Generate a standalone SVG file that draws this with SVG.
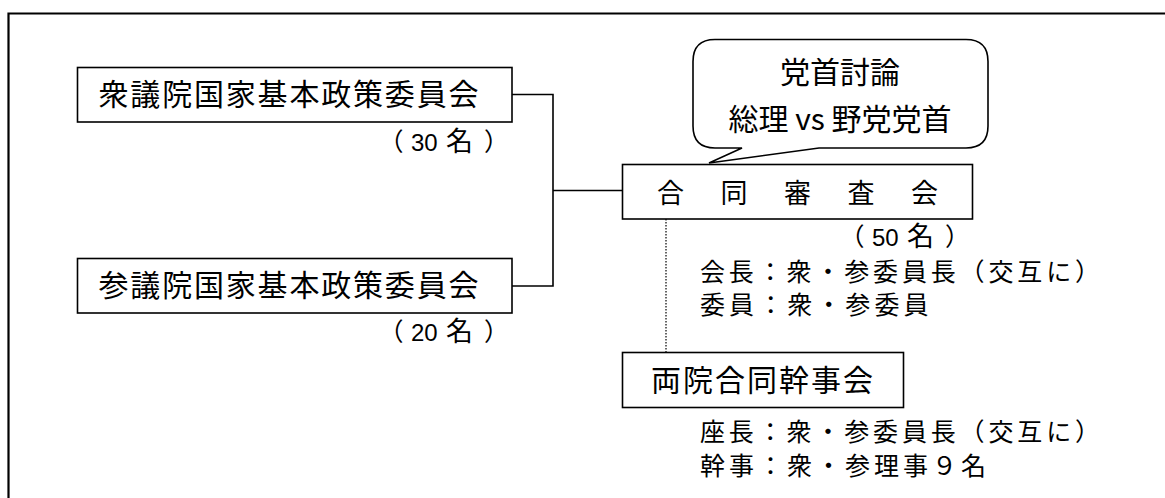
<svg xmlns="http://www.w3.org/2000/svg" width="1165" height="498" viewBox="0 0 1165 498">
<style>
.box{fill:#fff;stroke:#000;stroke-width:1.6}
.frame{fill:none;stroke:#000;stroke-width:2.2}
.con{fill:none;stroke:#000;stroke-width:1.6}
.dot{fill:none;stroke:#000;stroke-width:1.2;stroke-dasharray:1.5 1.5}
text{font-family:"Noto Sans CJK JP","Noto Sans",sans-serif;fill:#000}
.t30{font-size:30px}
.t27{font-size:27px}
.t25{font-size:25px}
.num{font-family:"Liberation Sans","Noto Sans CJK JP",sans-serif;font-size:24px}
.big{font-size:27px}
</style>
<rect width="1165" height="498" fill="#fff"/>
<path class="frame" d="M1170,13.5 H8.5 V505"/>
<g id="connectors">
<path class="con" d="M512,94.5 H553 V286 H512"/>
<path class="con" d="M553,190.5 H623"/>
<path class="dot" d="M666,219 V352"/>
</g>
<g id="shugiin">
<rect class="box" x="77.5" y="67.5" width="434.5" height="54.5"/>
<text class="t30" x="98.5" y="105" textLength="380" lengthAdjust="spacing">衆議院国家基本政策委員会</text>
<text class="t25" y="151"><tspan x="378.5">（</tspan><tspan class="num" x="411">30</tspan><tspan class="big" x="446">名</tspan><tspan x="484">）</tspan></text>
</g>
<g id="sangiin">
<rect class="box" x="77.5" y="258.5" width="434.5" height="54.5"/>
<text class="t30" x="98.5" y="296" textLength="380" lengthAdjust="spacing">参議院国家基本政策委員会</text>
<text class="t25" y="341"><tspan x="378.5">（</tspan><tspan class="num" x="411">20</tspan><tspan class="big" x="446">名</tspan><tspan x="484">）</tspan></text>
</g>
<g id="callout">
<path class="box" d="M715,39.5 H966 Q988,39.5 988,61.5 V126 Q988,148 966,148 H819 L709,163 L742,148 H715 Q693,148 693,126 V61.5 Q693,39.5 715,39.5 Z"/>
<text class="t30" x="840" y="83" text-anchor="middle">党首討論</text>
<text class="t30" x="840" y="130" text-anchor="middle">総理 vs 野党党首</text>
</g>
<g id="goudou">
<rect class="box" x="622.5" y="164.5" width="350" height="54.5"/>
<text class="t27" x="657" y="203" letter-spacing="36.5">合同審査会</text>
<text class="t25" y="246"><tspan x="839.5">（</tspan><tspan class="num" x="872">50</tspan><tspan class="big" x="907">名</tspan><tspan x="945">）</tspan></text>
<text class="t25" x="700" y="281" textLength="400" lengthAdjust="spacing">会長：衆・参委員長（交互に）</text>
<text class="t25" x="700" y="314" textLength="228.5" lengthAdjust="spacing">委員：衆・参委員</text>
</g>
<g id="kanjikai">
<rect class="box" x="622.5" y="352.5" width="281" height="55"/>
<text class="t30" x="651" y="391" textLength="222" lengthAdjust="spacing">両院合同幹事会</text>
<text class="t25" x="700" y="441" textLength="400" lengthAdjust="spacing">座長：衆・参委員長（交互に）</text>
<text class="t25" x="700" y="475" textLength="286" lengthAdjust="spacing">幹事：衆・参理事９名</text>
</g>
</svg>
